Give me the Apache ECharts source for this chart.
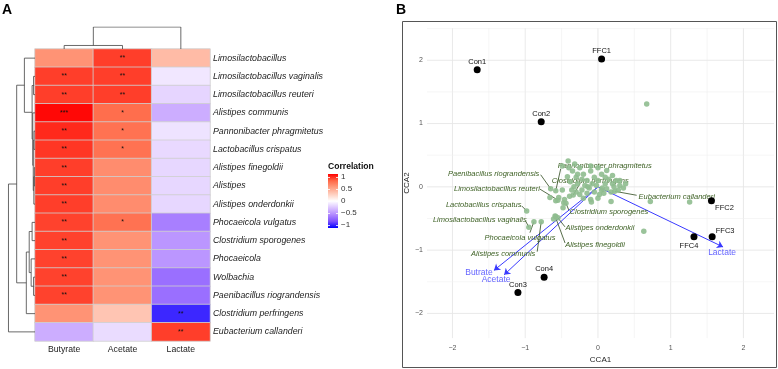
<!DOCTYPE html>
<html>
<head>
<meta charset="utf-8">
<script src="https://cdn.jsdelivr.net/npm/echarts@6/dist/echarts.min.js"></script>
<style>
html,body{margin:0;padding:0;background:#fff}
#chart{width:778px;height:369px}
</style>
</head>
<body>
<div id="chart"></div>
<script>
// ---- panel A: correlation heatmap ----
const acids = ['Butyrate', 'Acetate', 'Lactate'];
const taxa = ['Limosilactobacillus', 'Limosilactobacillus vaginalis', 'Limosilactobacillus reuteri',
  'Alistipes communis', 'Pannonibacter phragmitetus', 'Lactobacillus crispatus', 'Alistipes finegoldii',
  'Alistipes', 'Alistipes onderdonkii', 'Phocaeicola vulgatus', 'Clostridium sporogenes', 'Phocaeicola',
  'Wolbachia', 'Paenibacillus riograndensis', 'Clostridium perfringens', 'Eubacterium callanderi'];
const butyrate = [0.55, 0.85, 0.85, 0.98, 0.9, 0.87, 0.85, 0.85, 0.85, 0.84, 0.84, 0.84, 0.84, 0.84, 0.55, -0.35];
const acetate = [0.85, 0.85, 0.85, 0.72, 0.7, 0.7, 0.58, 0.58, 0.58, 0.7, 0.55, 0.55, 0.55, 0.55, 0.3, -0.15];
const lactate = [0.35, -0.1, -0.18, -0.35, -0.12, -0.16, -0.17, -0.17, -0.17, -0.55, -0.45, -0.45, -0.62, -0.62, -0.88, 0.85];
const sigButyrate = ['', '**', '**', '***', '**', '**', '**', '**', '**', '**', '**', '**', '**', '**', '', ''];
const sigAcetate = ['**', '**', '**', '*', '*', '*', '', '', '', '*', '', '', '', '', '', ''];
const sigLactate = ['', '', '', '', '', '', '', '', '', '', '', '', '', '', '**', '**'];
const legendTicks = [1, 0.5, 0, -0.5, -1];

// dendrograms, hclust style: negative = leaf (1-based), positive = earlier merge
const rowMerge = [[-2, -3, 1.5], [-5, -6, 1.0], [-7, -8, 0.7], [3, -9, 1.2], [2, 4, 1.8], [-4, 5, 2.3],
  [1, 6, 3.0], [-1, 7, 11], [-10, -11, 3], [-13, -14, 1.5], [-12, 10, 4], [9, 11, 6], [12, -15, 9],
  [8, 13, 19], [14, -16, 27.5]];
const colMerge = [[-1, -2, 0.16], [1, -3, 1]];

// ---- panel B: CCA biplot ----
const sampleNames = ['Con1', 'Con2', 'Con3', 'Con4', 'FFC1', 'FFC2', 'FFC3', 'FFC4'];
const sampleX = [-1.66, -0.78, -1.10, -0.74, 0.05, 1.56, 1.57, 1.32];
const sampleY = [1.85, 1.03, -1.67, -1.43, 2.02, -0.22, -0.79, -0.79];
const acidNames = ['Butrate', 'Acetate', 'Lactate'];
const acidX = [-1.43, -1.29, 1.72];
const acidY = [-1.32, -1.39, -0.95];
const labeledNames = ['Pannonibacter phragmitetus', 'Clostridium perfringens', 'Paenibacillus riograndensis',
  'Limosilactobacillus reuteri', 'Lactobacillus crispatus', 'Limosilactobacillus vaginalis',
  'Phocaeicola vulgatus', 'Alistipes communis', 'Clostridium sporogenes', 'Alistipes onderdonkii',
  'Alistipes finegoldii', 'Eubacterium callanderi'];
const labeledX = [-0.58, -0.34, -0.65, -0.55, -0.98, -0.95, -0.88, -0.78, -0.44, -0.55, -0.59, 0.23];
const labeledY = [-0.06, -0.13, -0.03, -0.21, -0.38, -0.64, -0.55, -0.55, -0.26, -0.49, -0.46, -0.07];
const otherX = [0.67, 1.26, 0.63, 0.72, 0.18, -0.09, -0.61, -0.58, -0.66, -0.58, -0.47, -0.48, -0.39, -0.49,
  -0.41, -0.49, -0.54, -0.46, -0.35, -0.3, -0.25, -0.2, -0.15, -0.1, -0.05, 0, 0.05, 0.1, 0.15, 0.2, 0.25,
  0.3, 0.35, 0.28, 0.22, 0.12, 0.05, -0.02, -0.08, -0.12, -0.18, -0.22, -0.28, -0.33, -0.38, -0.3, -0.25,
  -0.15, -0.05, 0.02, 0.08, 0.18, -0.4, -0.32, -0.22, -0.1, -0.36, -0.2, -0.1, 0, 0.1, 0.2, 0.3, -0.28,
  0, 0.12, -0.42, 0.38, -0.14, 0.06];
const otherY = [1.31, -0.24, -0.7, -0.23, -0.23, -0.24, -0.51, -0.47, -0.17, -0.22, -0.25, -0.33, -0.15,
  -0.05, 0.41, 0.33, -0.17, -0.2, 0.25, 0.15, 0.3, 0.2, 0.1, 0.25, 0.15, 0.1, 0.2, 0.05, 0.12, 0.05, 0.1,
  0.02, -0.02, -0.05, 0, -0.03, -0.05, 0.02, 0.05, -0.02, 0.02, -0.05, 0.05, 0, 0.08, -0.08, -0.12, -0.1,
  -0.08, -0.12, -0.1, -0.08, 0.3, 0.36, 0.12, 0.33, -0.05, -0.18, -0.2, -0.18, 0.15, 0.18, 0.1, 0.2, 0.3,
  0.26, 0.16, 0.05, 0.0, -0.02];
const gridX = [-2, -1.5, -1, -0.5, 0, 0.5, 1, 1.5, 2];
const gridY = [-2, -1.5, -1, -0.5, 0, 0.5, 1, 1.5, 2, 2.5];
const tickValues = [-2, -1, 0, 1, 2];

// layout only (pixel offsets)
const sampleLabelOffset = [[0, -8], [0, -8], [0, -8], [0, -8], [0, -8], [13, 7], [13, -6], [-5, 9]];
const acidLabelOffset = [[-15, 2], [-8, 5], [-1, 6]];
const speciesTextOffset = [[49, -25], [17, -14], [-57, -15], [-61, -11], [-43, -6], [-49, -7],
  [-14, 16], [-38, 32], [43, 9], [42, 10], [40, 29], [62, 6]];
const speciesSegEnd = [[5, -22], [7, -12], [-10, -14], [-18, -11], [-5, -5], [-3, -6],
  [-4, 11], [-4, 30], [3, 7], [7, 9], [10, 27], [22, 4]];

const font = 'Liberation Sans, Arial, sans-serif';
const palette = ['#0000FF', '#7E51FF', '#B38BFF', '#DCC4FF', '#FFFFFF', '#FFCFBF', '#FF9E81', '#FF6746', '#FF0000'];
const minus = (v) => String(v).replace('-', '\u2212');

function dendroLines(merge, flip) {
  const pos = [], hgt = [], out = [];
  const get = (k) => k < 0 ? [-k - 1, 0] : [pos[k - 1], hgt[k - 1]];
  merge.forEach(([a, b, h]) => {
    const [pa, ha] = get(a), [pb, hb] = get(b);
    pos.push((pa + pb) / 2); hgt.push(h);
    let pts = [[ha, pa], [h, pa], [h, pb], [hb, pb]];
    if (flip) pts = pts.map(([x, y]) => [y, x]);
    out.push({ coords: pts });
  });
  return out;
}

const heatData = [];
const sigs = [sigButyrate, sigAcetate, sigLactate];
[butyrate, acetate, lactate].forEach((arr, c) => arr.forEach((v, r) => heatData.push([c, r, v, sigs[c][r]])));

const myChart = echarts.init(document.getElementById('chart'));

// legend colour bar
const barTop = 174, barBottom = 228, barX = 328, barW = 10;
const tickY = (v) => 177 + (1 - v) / 2 * 48;
const legendGraphics = [
  { type: 'text', left: 2, top: 3, style: { text: 'A', font: 'bold 14px ' + font, fill: '#000' } },
  { type: 'text', left: 396, top: 3, style: { text: 'B', font: 'bold 14px ' + font, fill: '#000' } },
  { type: 'text', x: barX, y: 167, style: { text: 'Correlation', font: 'bold 8.6px ' + font, fill: '#111', verticalAlign: 'middle' } },
  { type: 'rect', shape: { x: barX, y: barTop, width: barW, height: barBottom - barTop },
    style: { fill: new echarts.graphic.LinearGradient(0, 0, 0, 1,
      palette.slice().reverse().map((c, i) => ({ offset: i / (palette.length - 1), color: c }))) } },
  { type: 'rect', shape: { x: 402.5, y: 21.5, width: 374, height: 346 }, style: { fill: 'none', stroke: '#555', lineWidth: 1 } }
];
legendTicks.forEach((v) => {
  const y = Math.round(tickY(v)) + 0.5;
  legendGraphics.push({ type: 'line', shape: { x1: barX, y1: y, x2: barX + 2, y2: y }, style: { stroke: '#fff', lineWidth: 0.8 } });
  legendGraphics.push({ type: 'line', shape: { x1: barX + barW - 2, y1: y, x2: barX + barW, y2: y }, style: { stroke: '#fff', lineWidth: 0.8 } });
  legendGraphics.push({ type: 'text', x: barX + barW + 3, y: tickY(v),
    style: { text: minus(v), font: '8px ' + font, fill: '#333', verticalAlign: 'middle' } });
});

const option = {
  animation: false,
  textStyle: { fontFamily: font },
  grid: [
    { left: 35, top: 49, width: 175, height: 292 },
    { left: 8, top: 49, width: 27, height: 292 },
    { left: 35, top: 27, width: 175, height: 22 },
    { left: 427, top: 28, width: 347, height: 317 }
  ],
  xAxis: [
    { gridIndex: 0, type: 'category', data: acids, axisLine: { show: false }, axisTick: { show: false },
      axisLabel: { fontSize: 8.7, color: '#222', margin: 4 } },
    { gridIndex: 1, type: 'value', min: 0, max: 28, inverse: true, show: false },
    { gridIndex: 2, type: 'value', min: -0.5, max: 2.5, show: false },
    { gridIndex: 3, type: 'value', min: -2.35, max: 2.42, splitLine: { show: false },
      axisLine: { show: false }, axisTick: { show: false },
      axisLabel: { customValues: tickValues, fontSize: 7, color: '#555', margin: 6, formatter: minus },
      name: 'CCA1', nameLocation: 'middle', nameGap: 13, nameTextStyle: { fontSize: 8, color: '#222' } }
  ],
  yAxis: [
    { gridIndex: 0, type: 'category', data: taxa, inverse: true, position: 'right',
      axisLine: { show: false }, axisTick: { show: false },
      axisLabel: { fontSize: 8.8, fontStyle: 'italic', color: '#222', margin: 3 } },
    { gridIndex: 1, type: 'value', min: -0.5, max: 15.5, inverse: true, show: false },
    { gridIndex: 2, type: 'value', min: 0, max: 1, show: false },
    { gridIndex: 3, type: 'value', min: -2.39, max: 2.51, splitLine: { show: false },
      axisLine: { show: false }, axisTick: { show: false },
      axisLabel: { customValues: tickValues, fontSize: 7, color: '#555', margin: 4, formatter: minus },
      name: 'CCA2', nameLocation: 'middle', nameGap: 8, nameRotate: 90, nameTextStyle: { fontSize: 8, color: '#222' } }
  ],
  visualMap: { show: false, type: 'continuous', min: -1, max: 1, seriesIndex: 0, dimension: 2, inRange: { color: palette } },
  graphic: legendGraphics,
  series: [
    { type: 'heatmap', xAxisIndex: 0, yAxisIndex: 0, data: heatData,
      itemStyle: { borderColor: '#cfcfcf', borderWidth: 0.8 },
      label: { show: true, formatter: (p) => p.data[3], fontSize: 7, color: '#111' } },
    { type: 'lines', coordinateSystem: 'cartesian2d', xAxisIndex: 1, yAxisIndex: 1, polyline: true,
      data: dendroLines(rowMerge, false), lineStyle: { color: '#444', width: 0.8, opacity: 1 }, silent: true },
    { type: 'lines', coordinateSystem: 'cartesian2d', xAxisIndex: 2, yAxisIndex: 2, polyline: true,
      data: dendroLines(colMerge, true), lineStyle: { color: '#444', width: 0.8, opacity: 1 }, silent: true },
    { type: 'custom', xAxisIndex: 3, yAxisIndex: 3, silent: true, z: 0,
      data: gridX.map((v) => [v, 0]).concat(gridY.map((v) => [v, 1])),
      renderItem: (params, api) => {
        const cs = params.coordSys, v = api.value(0), horiz = api.value(1) === 1;
        const major = Number.isInteger(v);
        const style = { stroke: major ? '#e6e6e6' : '#f0f0f0', lineWidth: major ? 0.9 : 0.6 };
        if (horiz) {
          const y = api.coord([0, v])[1];
          return { type: 'line', shape: { x1: cs.x, y1: y, x2: cs.x + cs.width, y2: y }, style };
        }
        const x = api.coord([v, 0])[0];
        return { type: 'line', shape: { x1: x, y1: cs.y, x2: x, y2: cs.y + cs.height }, style };
      } },
    { type: 'scatter', xAxisIndex: 3, yAxisIndex: 3, symbolSize: 5.5, silent: true,
      itemStyle: { color: '#8fbc8f', opacity: 0.9 },
      data: otherX.map((x, i) => [x, otherY[i]]).concat(labeledX.map((x, i) => [x, labeledY[i]])) },
    { type: 'lines', coordinateSystem: 'cartesian2d', xAxisIndex: 3, yAxisIndex: 3, silent: true,
      symbol: ['none', 'arrow'], symbolSize: 6,
      lineStyle: { color: '#3a3aff', width: 1, opacity: 1 },
      data: acidX.map((x, i) => ({ coords: [[0, 0], [x, acidY[i]]] })) },
    { type: 'custom', xAxisIndex: 3, yAxisIndex: 3, silent: true,
      data: labeledX.map((x, i) => [x, labeledY[i]]),
      renderItem: (params, api) => {
        const i = params.dataIndex;
        const p = api.coord([api.value(0), api.value(1)]);
        const s = speciesSegEnd[i], t = speciesTextOffset[i];
        return { type: 'group', children: [
          { type: 'line', shape: { x1: p[0], y1: p[1], x2: p[0] + s[0], y2: p[1] + s[1] },
            style: { stroke: '#2e4a1e', lineWidth: 0.8 } },
          { type: 'text', x: p[0] + t[0], y: p[1] + t[1],
            style: { text: labeledNames[i], fontSize: 7.5, fontStyle: 'italic', fontFamily: font,
              fill: '#3e6125', align: 'center', verticalAlign: 'middle' } }
        ] };
      } },
    { type: 'scatter', xAxisIndex: 3, yAxisIndex: 3, symbolSize: 0, silent: true,
      data: acidNames.map((n, i) => ({ name: n, value: [acidX[i], acidY[i]],
        label: { offset: acidLabelOffset[i] } })),
      label: { show: true, position: 'inside', formatter: '{b}', fontSize: 8.5, color: '#3a3aff' } },
    { type: 'scatter', xAxisIndex: 3, yAxisIndex: 3, symbolSize: 7, silent: true, z: 5,
      itemStyle: { color: '#000', opacity: 1 },
      data: sampleNames.map((n, i) => ({ name: n, value: [sampleX[i], sampleY[i]],
        label: { offset: sampleLabelOffset[i] } })),
      label: { show: true, position: 'inside', formatter: '{b}', fontSize: 7.5, color: '#111' } }
  ]
};
option && myChart.setOption(option);
</script>
</body>
</html>
